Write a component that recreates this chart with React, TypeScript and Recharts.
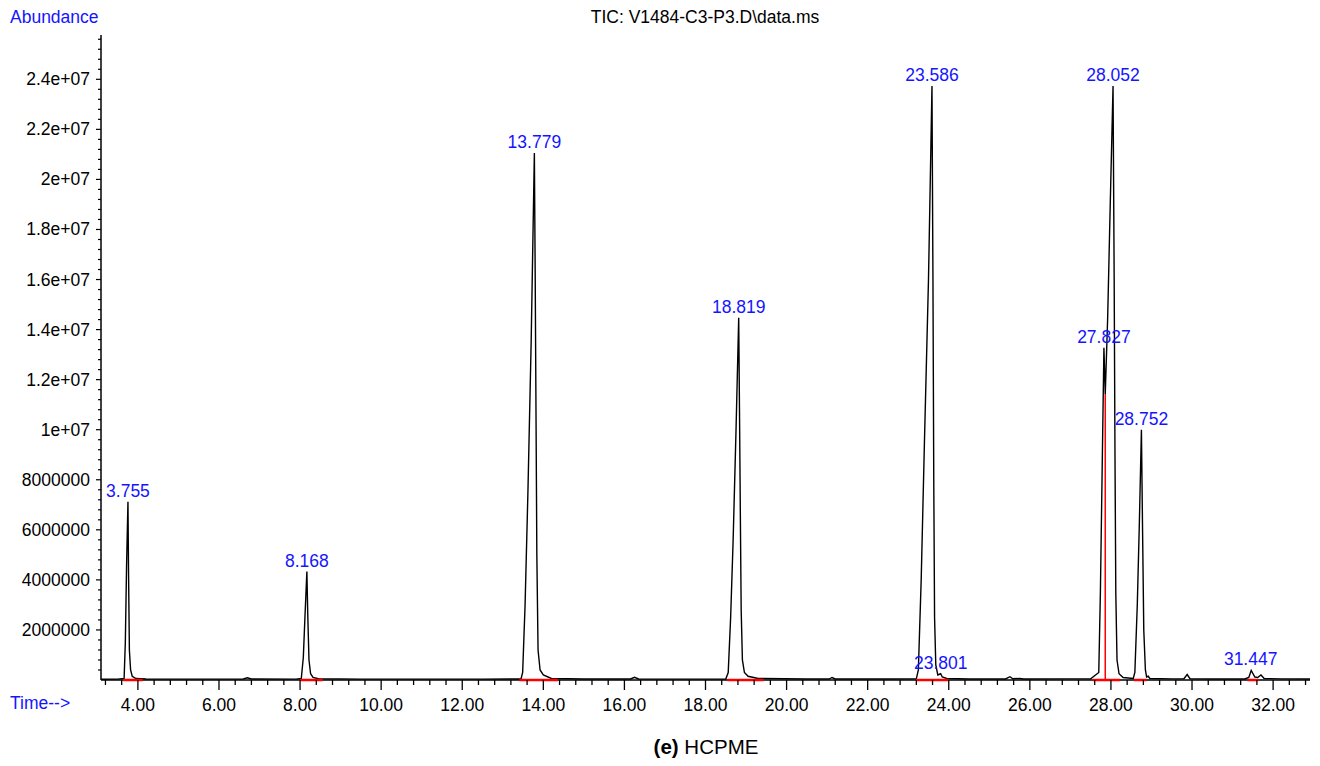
import { ComposedChart, Line, Scatter, XAxis, YAxis, ReferenceLine } from "recharts";

// retention time (min) / abundance
const times = [
  3.09, 3.5, 3.66, 3.69, 3.72, 3.755, 3.77, 3.79, 3.82, 3.86, 3.95, 4.2,
  5.5, 6.6, 6.7, 6.8, 7.9, 8.03, 8.08, 8.12, 8.168, 8.19, 8.22, 8.26, 8.32, 8.45,
  9.5, 11.0, 12.5, 13.45, 13.49, 13.55, 13.62, 13.7, 13.779, 13.8, 13.82, 13.84, 13.87, 13.92, 14.0, 14.2,
  15.0, 16.15, 16.25, 16.35, 17.5, 18.5, 18.56, 18.62, 18.68, 18.75, 18.819, 18.84, 18.86, 18.88, 18.91, 18.96, 19.05, 19.3,
  20.5, 21.05, 21.12, 21.2, 22.5, 23.2, 23.25, 23.32, 23.4, 23.5, 23.586, 23.61, 23.63, 23.65, 23.68, 23.73, 23.8, 23.84, 23.95,
  24.5, 25.4, 25.51, 25.58, 25.75, 25.85, 27.0, 27.5, 27.7, 27.74, 27.78, 27.827, 27.86, 27.92, 27.98, 28.052, 28.08, 28.1, 28.12, 28.15, 28.2, 28.3,
  28.55, 28.59, 28.65, 28.7, 28.752, 28.78, 28.81, 28.85, 28.88, 28.92, 28.96, 29.5, 29.8, 29.88, 29.95, 30.5,
  31.3, 31.4, 31.46, 31.55, 31.62, 31.7, 31.78, 32.2, 32.91,
];
const abundance = [
  30000, 35000, 60000, 1500000, 4500000, 7120000, 4200000, 1200000, 400000, 150000, 60000, 40000,
  35000, 40000, 90000, 40000, 35000, 60000, 900000, 2500000, 4330000, 2600000, 800000, 250000, 100000, 50000,
  35000, 35000, 35000, 40000, 300000, 3000000, 7500000, 13500000, 21060000, 16000000, 10500000, 5000000, 1200000, 400000, 200000, 60000,
  40000, 40000, 110000, 40000, 35000, 40000, 300000, 2500000, 5500000, 9800000, 14470000, 10500000, 6500000, 2800000, 800000, 300000, 150000, 60000,
  40000, 40000, 100000, 40000, 40000, 45000, 400000, 4000000, 9500000, 16000000, 23730000, 16000000, 8000000, 2500000, 600000, 200000, 250000, 120000, 60000,
  40000, 40000, 130000, 50000, 60000, 40000, 45000, 50000, 300000, 3500000, 8000000, 13270000, 11430000, 14500000, 18800000, 23730000, 16000000, 9000000, 3500000, 800000, 250000, 100000,
  60000, 300000, 3000000, 6200000, 10000000, 6000000, 2000000, 400000, 120000, 150000, 60000, 45000, 50000, 220000, 50000, 40000,
  40000, 100000, 380000, 120000, 100000, 200000, 60000, 45000, 40000,
];

const peakLabels = ["3.755", "8.168", "13.779", "18.819", "23.586", "23.801", "27.827", "28.052", "28.752", "31.447"];
const peakTimes = [3.755, 8.168, 13.779, 18.819, 23.586, 23.801, 27.827, 28.052, 28.752, 31.447];
const peakHeights = [7120000, 4330000, 21060000, 14470000, 23730000, 250000, 13270000, 23730000, 10000000, 380000];

// integration baselines (red) and the drop line between 27.827 / 28.052
const baseStart = [3.64, 8.0, 13.41, 18.54, 23.19, 27.55, 28.57, 31.37];
const baseEnd = [4.12, 8.56, 14.36, 19.43, 24.0, 28.23, 28.88, 31.64];
const dropTime = 27.86;
const dropTop = 11430000;

const X_MIN = 3.09;
const X_MAX = 32.91;
const Y_MAX = 25770000;

const xMajor = [4, 6, 8, 10, 12, 14, 16, 18, 20, 22, 24, 26, 28, 30, 32];
const yMajor = [2000000, 4000000, 6000000, 8000000, 10000000, 12000000, 14000000, 16000000, 18000000, 20000000, 22000000, 24000000];
const yLabels = ["2000000", "4000000", "6000000", "8000000", "1e+07", "1.2e+07", "1.4e+07", "1.6e+07", "1.8e+07", "2e+07", "2.2e+07", "2.4e+07"];

const xTicks: number[] = [];
for (let i = 8; i <= 82; i++) xTicks.push(Math.round(i * 4) / 10);
const yTicks: number[] = [];
for (let i = 1; i <= 64; i++) yTicks.push(i * 400000);

const tic = times.map((t, i) => ({ t, v: abundance[i] }));
const peaks = peakTimes.map((t, i) => ({ t, v: peakHeights[i], label: peakLabels[i] }));

const baseMarks: { t: number; r: number | null }[] = [];
baseStart.forEach((s, i) => {
  baseMarks.push({ t: s, r: 0 }, { t: baseEnd[i], r: 0 }, { t: baseEnd[i], r: null });
});
const dropMarks = [
  { t: dropTime, r: 0 },
  { t: dropTime, r: dropTop },
];

const FONT = "'Liberation Sans', Arial, Helvetica, sans-serif";
const BLUE = "#1414ff";

function XTick(props: any) {
  const { x, y, payload } = props;
  const v = payload.value;
  const major = xMajor.some((m) => Math.abs(m - v) < 1e-6);
  return (
    <g>
      <line x1={x} x2={x} y1={y} y2={y + (major ? 10 : 5)} stroke="#000" strokeWidth={1.3} />
      {major ? (
        <text x={x} y={y + 31} textAnchor="middle" fontSize={17.5} fontFamily={FONT} fill="#000">
          {v.toFixed(2)}
        </text>
      ) : null}
    </g>
  );
}

function YTick(props: any) {
  const { x, y, payload } = props;
  const idx = yMajor.findIndex((m) => Math.abs(m - payload.value) < 1);
  const major = idx >= 0;
  return (
    <g>
      <line x1={x} x2={x - (major ? 5 : 3)} y1={y} y2={y} stroke="#000" strokeWidth={1.2} />
      {major ? (
        <text x={x - 11} y={y + 6} textAnchor="end" fontSize={17.5} fontFamily={FONT} fill="#000">
          {yLabels[idx]}
        </text>
      ) : null}
    </g>
  );
}

function PeakLabel(props: any) {
  const { cx, cy, payload } = props;
  return (
    <text x={cx} y={cy - 5} textAnchor="middle" fontSize={17.5} fontFamily={FONT} fill={BLUE}>
      {payload.label}
    </text>
  );
}

export default function App() {
  return (
    <div style={{ position: "absolute", left: 0, top: 0, width: 1320, height: 766, background: "#fff" }}>
      <ComposedChart width={1320} height={766} data={tic} margin={{ top: 35, right: 10, left: 0, bottom: 0 }}>
        <XAxis
          dataKey="t"
          type="number"
          domain={[X_MIN, X_MAX]}
          ticks={xTicks}
          interval={0}
          tick={<XTick />}
          tickSize={0}
          tickMargin={0}
          tickLine={false}
          height={86}
          axisLine={false}
        />
        <YAxis
          type="number"
          domain={[0, Y_MAX]}
          ticks={yTicks}
          interval={0}
          tick={<YTick />}
          tickSize={0}
          tickMargin={0}
          tickLine={false}
          width={101}
          axisLine={false}
        />
        <ReferenceLine y={0} stroke="#000" strokeWidth={1.5} />
        <ReferenceLine x={X_MIN} stroke="#000" strokeWidth={1.5} />
        <Line
          type="linear"
          dataKey="v"
          stroke="#000"
          strokeWidth={1.4}
          dot={false}
          isAnimationActive={false}
        />
        <Line
          data={baseMarks}
          type="linear"
          dataKey="r"
          stroke="#ff0000"
          strokeWidth={2.4}
          dot={false}
          connectNulls={false}
          isAnimationActive={false}
          {...({ zIndex: 800 } as any)}
        />
        <Line
          data={dropMarks}
          type="linear"
          dataKey="r"
          stroke="#ff0000"
          strokeWidth={1.5}
          dot={false}
          isAnimationActive={false}
          {...({ zIndex: 800 } as any)}
        />
        <Scatter data={peaks} dataKey="v" shape={PeakLabel} isAnimationActive={false} />
      </ComposedChart>
      <svg
        width={1320}
        height={766}
        style={{ position: "absolute", left: 0, top: 0, pointerEvents: "none" }}
        fontFamily={FONT}
      >
        <text x={10} y={23} fontSize={17.5} fill={BLUE}>
          Abundance
        </text>
        <text x={705} y={23} fontSize={17.5} textAnchor="middle" fill="#000">
          {"TIC: V1484-C3-P3.D\\data.ms"}
        </text>
        <text x={10} y={709} fontSize={17.5} fill={BLUE}>
          {"Time-->"}
        </text>
        <text x={706} y={754} fontSize={20.5} textAnchor="middle" fill="#000">
          <tspan fontWeight="bold">(e)</tspan> HCPME
        </text>
      </svg>
    </div>
  );
}
